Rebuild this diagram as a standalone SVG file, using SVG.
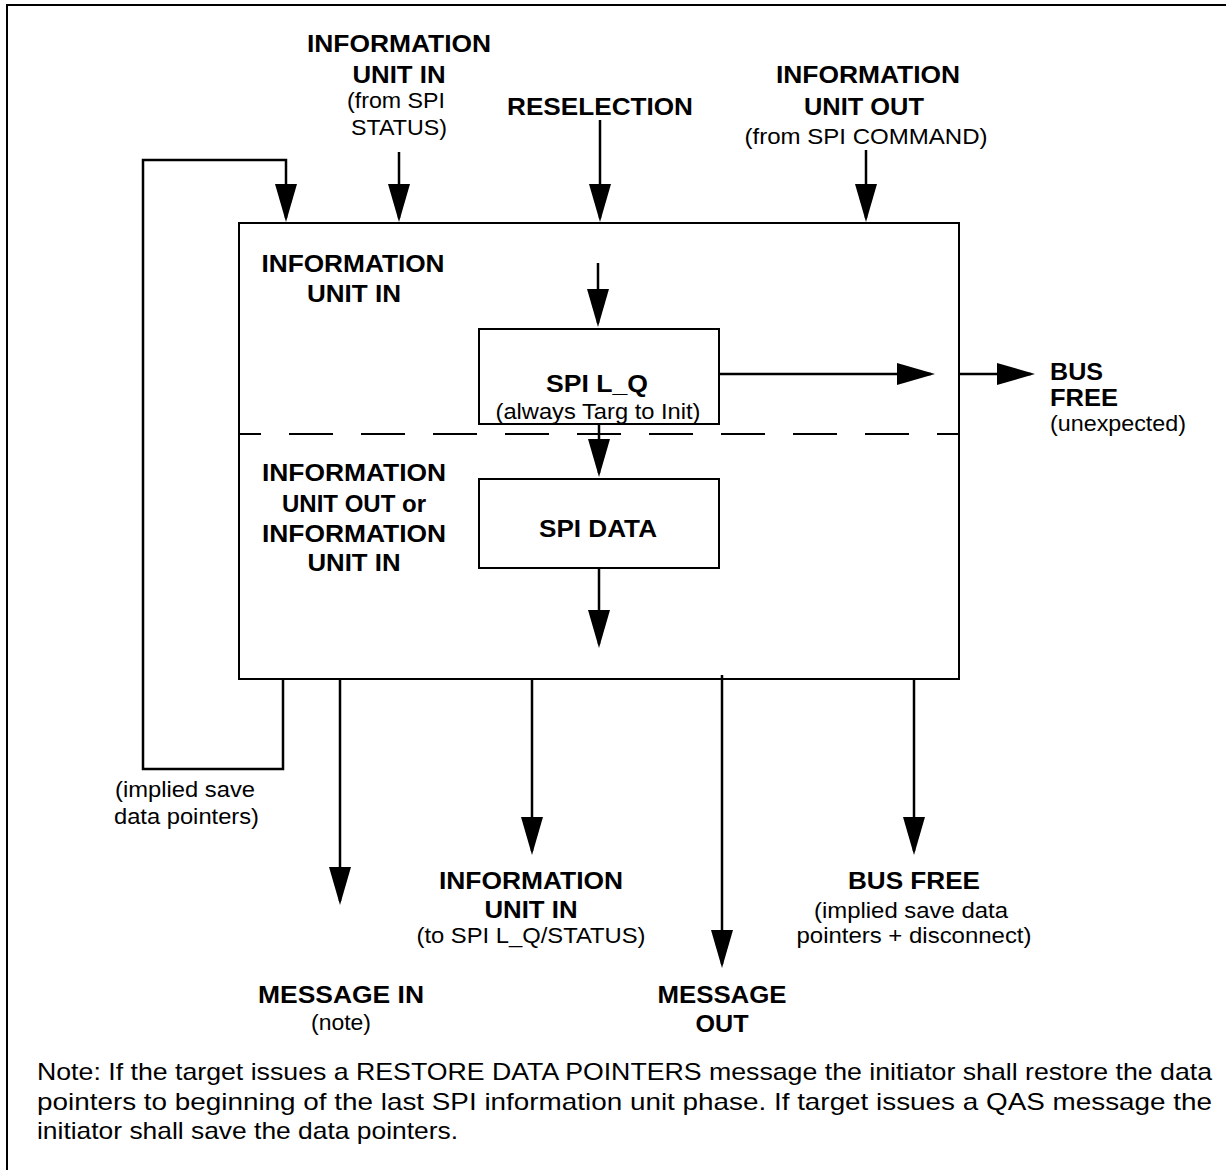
<svg xmlns="http://www.w3.org/2000/svg" width="1226" height="1170" viewBox="0 0 1226 1170">
<style>
.b{font-family:"Liberation Sans",Arial,sans-serif;font-weight:bold;font-size:24px;fill:#000;text-anchor:middle}
.r{font-family:"Liberation Sans",Arial,sans-serif;font-size:22px;fill:#000;text-anchor:middle}
.n{font-family:"Liberation Sans",Arial,sans-serif;font-size:24px;fill:#000}
.s{text-anchor:start}
.e{text-anchor:end}
.box{fill:#fff;stroke:#000;stroke-width:2}
.c{fill:none;stroke:#000;stroke-width:2.5}
</style>
<defs>
<marker id="ah" markerUnits="userSpaceOnUse" markerWidth="38" markerHeight="22" refX="34" refY="11" orient="auto" viewBox="0 0 38 22">
<path d="M0,0 L38,11 L0,22 z" fill="#000"/>
</marker>
</defs>
<rect x="0" y="0" width="1226" height="1170" fill="#fff"/>
<rect id="frame" x="7" y="5" width="1240" height="1190" fill="none" stroke="#000" stroke-width="2"/>

<g id="main">
<rect class="box" x="239" y="223" width="720" height="456"/>
<line x1="239" y1="434" x2="959" y2="434" stroke="#000" stroke-width="2" stroke-dasharray="44 28" stroke-dashoffset="22"/>
<text class="b" x="353" y="272" textLength="183" lengthAdjust="spacingAndGlyphs">INFORMATION</text>
<text class="b" x="354" y="302" textLength="94" lengthAdjust="spacingAndGlyphs">UNIT IN</text>
<text class="b" x="354" y="481" textLength="184" lengthAdjust="spacingAndGlyphs">INFORMATION</text>
<text class="b" x="354" y="512" textLength="144" lengthAdjust="spacingAndGlyphs">UNIT OUT or</text>
<text class="b" x="354" y="542" textLength="184" lengthAdjust="spacingAndGlyphs">INFORMATION</text>
<text class="b" x="354" y="571" textLength="93" lengthAdjust="spacingAndGlyphs">UNIT IN</text>
</g>

<g id="spi_lq">
<rect class="box" x="479" y="329" width="240" height="95"/>
<text class="b" x="597" y="392" textLength="102" lengthAdjust="spacingAndGlyphs">SPI L_Q</text>
<text class="r" x="598" y="419" textLength="205" lengthAdjust="spacingAndGlyphs">(always Targ to Init)</text>
</g>

<g id="spi_data">
<rect class="box" x="479" y="479" width="240" height="89"/>
<text class="b" x="598" y="537" textLength="118" lengthAdjust="spacingAndGlyphs">SPI DATA</text>
</g>

<g id="connectors">
<polyline class="c" points="283,679 283,769 143,769 143,160 286,160 286,218" marker-end="url(#ah)"/>
<line class="c" x1="399" y1="152" x2="399" y2="218" marker-end="url(#ah)"/>
<line class="c" x1="600" y1="120" x2="600" y2="218" marker-end="url(#ah)"/>
<line class="c" x1="866" y1="150" x2="866" y2="218" marker-end="url(#ah)"/>
<line class="c" x1="598" y1="263" x2="598" y2="323" marker-end="url(#ah)"/>
<line class="c" x1="599" y1="424" x2="599" y2="473" marker-end="url(#ah)"/>
<line class="c" x1="599" y1="568" x2="599" y2="644" marker-end="url(#ah)"/>
<line class="c" x1="719" y1="374" x2="931" y2="374" marker-end="url(#ah)"/>
<line class="c" x1="959" y1="374" x2="1031" y2="374" marker-end="url(#ah)"/>
<line class="c" x1="340" y1="679" x2="340" y2="901" marker-end="url(#ah)"/>
<line class="c" x1="532" y1="679" x2="532" y2="851" marker-end="url(#ah)"/>
<line class="c" x1="722" y1="675" x2="722" y2="964" marker-end="url(#ah)"/>
<line class="c" x1="914" y1="679" x2="914" y2="851" marker-end="url(#ah)"/>
</g>

<g id="in_status">
<text class="b" x="399" y="52" textLength="184" lengthAdjust="spacingAndGlyphs">INFORMATION</text>
<text class="b" x="399" y="83" textLength="93" lengthAdjust="spacingAndGlyphs">UNIT IN</text>
<text class="r" x="396" y="108" textLength="98" lengthAdjust="spacingAndGlyphs">(from SPI</text>
<text class="r" x="399" y="135" textLength="96" lengthAdjust="spacingAndGlyphs">STATUS)</text>
</g>
<g id="reselection">
<text class="b" x="600" y="115" textLength="186" lengthAdjust="spacingAndGlyphs">RESELECTION</text>
</g>
<g id="out_command">
<text class="b" x="868" y="83" textLength="184" lengthAdjust="spacingAndGlyphs">INFORMATION</text>
<text class="b" x="864" y="115" textLength="120" lengthAdjust="spacingAndGlyphs">UNIT OUT</text>
<text class="r" x="866" y="144" textLength="243" lengthAdjust="spacingAndGlyphs">(from SPI COMMAND)</text>
</g>
<g id="bus_free_unexpected">
<text class="b s" x="1050" y="380" textLength="53" lengthAdjust="spacingAndGlyphs">BUS</text>
<text class="b s" x="1050" y="406" textLength="68" lengthAdjust="spacingAndGlyphs">FREE</text>
<text class="r s" x="1050" y="431" textLength="136" lengthAdjust="spacingAndGlyphs">(unexpected)</text>
</g>
<g id="implied_save">
<text class="r e" x="255" y="797" textLength="140" lengthAdjust="spacingAndGlyphs">(implied save</text>
<text class="r e" x="259" y="824" textLength="145" lengthAdjust="spacingAndGlyphs">data pointers)</text>
</g>
<g id="message_in">
<text class="b" x="341" y="1003" textLength="166" lengthAdjust="spacingAndGlyphs">MESSAGE IN</text>
<text class="r" x="341" y="1030" textLength="60" lengthAdjust="spacingAndGlyphs">(note)</text>
</g>
<g id="iu_in_status">
<text class="b" x="531" y="889" textLength="184" lengthAdjust="spacingAndGlyphs">INFORMATION</text>
<text class="b" x="531" y="918" textLength="93" lengthAdjust="spacingAndGlyphs">UNIT IN</text>
<text class="r" x="531" y="943" textLength="229" lengthAdjust="spacingAndGlyphs">(to SPI L_Q/STATUS)</text>
</g>
<g id="message_out">
<text class="b" x="722" y="1003" textLength="129" lengthAdjust="spacingAndGlyphs">MESSAGE</text>
<text class="b" x="722" y="1032" textLength="53" lengthAdjust="spacingAndGlyphs">OUT</text>
</g>
<g id="bus_free_disconnect">
<text class="b" x="914" y="889" textLength="132" lengthAdjust="spacingAndGlyphs">BUS FREE</text>
<text class="r" x="911" y="918" textLength="194" lengthAdjust="spacingAndGlyphs">(implied save data</text>
<text class="r" x="914" y="943" textLength="235" lengthAdjust="spacingAndGlyphs">pointers + disconnect)</text>
</g>
<g id="note">
<text class="n" x="37" y="1080" textLength="1175" lengthAdjust="spacingAndGlyphs">Note: If the target issues a RESTORE DATA POINTERS message the initiator shall restore the data</text>
<text class="n" x="37" y="1110" textLength="1175" lengthAdjust="spacingAndGlyphs">pointers to beginning of the last SPI information unit phase. If target issues a QAS message the</text>
<text class="n" x="37" y="1139" textLength="421" lengthAdjust="spacingAndGlyphs">initiator shall save the data pointers.</text>
</g>
</svg>
